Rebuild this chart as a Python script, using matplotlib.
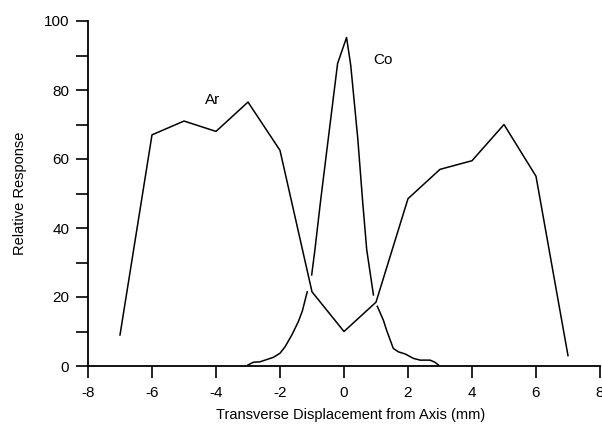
import numpy as np
import matplotlib
matplotlib.use("Agg")
import matplotlib.pyplot as plt

plt.rcParams['font.family'] = ['Liberation Sans', 'DejaVu Sans']
plt.rcParams['axes.unicode_minus'] = False

# Ar response profile
ar_x = [-7, -6, -5, -4, -3, -2, -1, 0, 1, 2, 3, 4, 5, 6, 7]
ar_y = [9, 67, 71, 68, 76.5, 62.5, 21.5, 10, 18.5, 48.5, 57, 59.5, 70, 55, 3]

# Co response profile, drawn in three pieces (broken where it crosses Ar)
co_x1 = [-3.0, -2.83, -2.63, -2.47, -2.21, -2.0, -1.84, -1.63, -1.43, -1.3, -1.15]
co_y1 = [0.3, 1.1, 1.2, 1.7, 2.5, 3.7, 5.6, 9.0, 12.8, 16.0, 21.5]
co_x2 = [-1.01, -0.91, -0.73, -0.49, -0.2, 0.08, 0.21, 0.43, 0.58, 0.71, 0.92]
co_y2 = [26.4, 33.6, 48, 66, 87.7, 95.2, 87.2, 66, 48, 33.7, 20.6]
co_x3 = [1.04, 1.23, 1.33, 1.54, 1.7, 1.91, 2.17, 2.38, 2.69, 2.84, 2.95]
co_y3 = [17.3, 13.3, 10.4, 5.1, 4.1, 3.5, 2.2, 1.7, 1.7, 1.1, 0.3]

x_ticks = [-8, -6, -4, -2, 0, 2, 4, 6, 8]
y_ticks = [0, 10, 20, 30, 40, 50, 60, 70, 80, 90, 100]
y_labels = ['0', '', '20', '', '40', '', '60', '', '80', '', '100']

fig = plt.figure(figsize=(6.02, 4.46), dpi=100)
ax = fig.add_axes([88 / 602, 1 - 366 / 446, 512 / 602, 345 / 446])

lw = 1.1
ax.plot(ar_x, ar_y, color='black', lw=lw, clip_on=False)
for cx, cy in [(co_x1, co_y1), (co_x2, co_y2), (co_x3, co_y3)]:
    ax.plot(cx, cy, color='black', lw=lw, clip_on=False)

ax.text(-4.1, 77, 'Ar', fontsize=11, ha='center', va='center')
ax.text(1.22, 88.7, 'Co', fontsize=11, ha='center', va='center')

ax.set_xlim(-8, 8)
ax.set_ylim(0, 100)
ax.set_xticks(x_ticks)
ax.set_yticks(y_ticks)
ax.set_yticklabels(y_labels)

for side in ['top', 'right']:
    ax.spines[side].set_visible(False)
for side in ['left', 'bottom']:
    ax.spines[side].set_linewidth(1.3)

ax.tick_params(axis='both', direction='out', length=8.5, width=1.2, labelsize=11)
ax.tick_params(axis='x', pad=6)
ax.tick_params(axis='y', pad=5)

ax.set_xlabel('Transverse Displacement from Axis (mm)', fontsize=10.5, va='center')
ax.xaxis.set_label_coords(0.512, -0.142)
ax.set_ylabel('Relative Response', fontsize=10.5, labelpad=12)

fig.savefig('out.png', dpi=100)
